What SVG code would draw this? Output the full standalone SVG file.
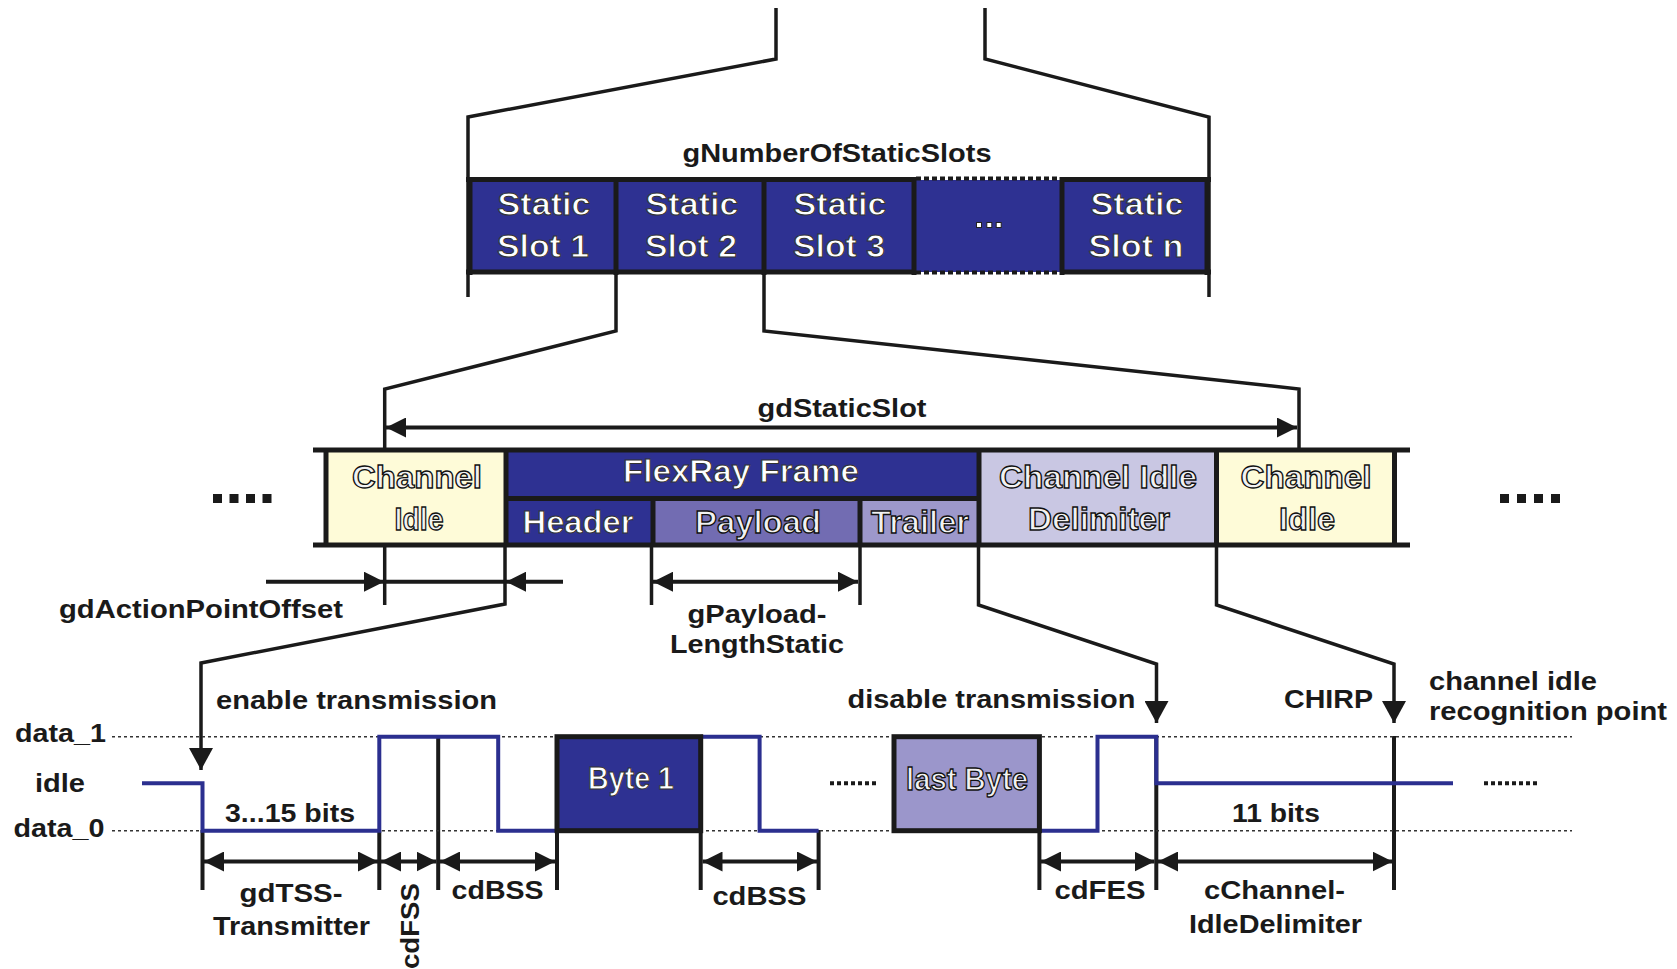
<svg xmlns="http://www.w3.org/2000/svg" width="1677" height="969" viewBox="0 0 1677 969">
  <style>
    .ln { fill: none; stroke: #1a1a1a; stroke-width: 3.5; stroke-linejoin: miter; }
    .thick { fill: none; stroke: #1a1a1a; stroke-width: 5; }
    .tick { fill: none; stroke: #1a1a1a; stroke-width: 4; }
    .dim { fill: none; stroke: #1a1a1a; stroke-width: 4; marker-start: url(#ah); marker-end: url(#ah); }
    .sig { fill: none; stroke: #2b2f8f; stroke-width: 4; stroke-linejoin: miter; }
    .lvl { fill: none; stroke: #333; stroke-width: 1.6; stroke-dasharray: 3 3; }
    .lbl { font-family: "Liberation Sans", Arial, sans-serif; font-weight: bold; font-size: 26px; fill: #1a1a1a; }
    .box { font-family: "Liberation Sans", Arial, sans-serif; font-weight: bold; font-size: 31px; fill: #ffffff; stroke: #333; stroke-width: 1; text-anchor: middle; }
    .boxl { font-family: "Liberation Sans", Arial, sans-serif; font-weight: bold; font-size: 31px; fill: #f2f2f2; stroke: #111; stroke-width: 1.3; text-anchor: middle; }
    .mid { text-anchor: middle; }
    .blue { fill: #2e3192; }
    .yel { fill: #fefbd8; }
  </style>
  <defs>
    <marker id="ah" viewBox="0 0 20 20" refX="20" refY="10" markerWidth="20" markerHeight="20" markerUnits="userSpaceOnUse" orient="auto-start-reverse">
      <path d="M0,0 L20,10 L0,20 z" fill="#1a1a1a"/>
    </marker>
    <marker id="ahv" viewBox="0 0 22 24" refX="22" refY="12" markerWidth="22" markerHeight="24" markerUnits="userSpaceOnUse" orient="auto">
      <path d="M0,0 L22,12 L0,24 z" fill="#1a1a1a"/>
    </marker>
  </defs>

  <!-- cycle-level static segment -->
  <g id="static-segment">
    <rect x="468" y="180" width="741" height="92" class="blue"/>
    <path class="ln" d="M776,8 V59 L468,117 V297"/>
    <path class="ln" d="M985,8 V59 L1209,117 V297"/>
    <path class="thick" d="M466,179.5 H914 M1060,179.5 H1211 M466,272 H914 M1060,272 H1211"/>
    <path fill="none" stroke="#1a1a1a" stroke-width="4" stroke-dasharray="5 3" d="M916,178.5 H1060 M916,272.5 H1060"/>
    <path class="thick" d="M470,177 V275 M616,177 V275 M764,177 V275 M914,177 V275 M1062,177 V275 M1207,177 V275"/>
    <text class="lbl mid" x="837" y="162" textLength="309" lengthAdjust="spacingAndGlyphs">gNumberOfStaticSlots</text>
  </g>

  <g id="slot-1">
    <text class="box" x="544" y="215" textLength="93" lengthAdjust="spacingAndGlyphs">Static</text>
    <text class="box" x="543" y="257" textLength="92" lengthAdjust="spacingAndGlyphs">Slot 1</text>
  </g>
  <g id="slot-2">
    <text class="box" x="692" y="215" textLength="93" lengthAdjust="spacingAndGlyphs">Static</text>
    <text class="box" x="691" y="257" textLength="92" lengthAdjust="spacingAndGlyphs">Slot 2</text>
  </g>
  <g id="slot-3">
    <text class="box" x="840" y="215" textLength="93" lengthAdjust="spacingAndGlyphs">Static</text>
    <text class="box" x="839" y="257" textLength="92" lengthAdjust="spacingAndGlyphs">Slot 3</text>
  </g>
  <g id="slot-ellipsis">
    <rect x="976.5" y="222.5" width="5" height="5" fill="#fff" stroke="#222" stroke-width="1"/>
    <rect x="986.8" y="222.5" width="5" height="5" fill="#fff" stroke="#222" stroke-width="1"/>
    <rect x="996.2" y="222.5" width="5" height="5" fill="#fff" stroke="#222" stroke-width="1"/>
  </g>
  <g id="slot-n">
    <text class="box" x="1137" y="215" textLength="93" lengthAdjust="spacingAndGlyphs">Static</text>
    <text class="box" x="1136" y="257" textLength="95" lengthAdjust="spacingAndGlyphs">Slot n</text>
  </g>

  <!-- zoom from slot 2 into the slot layout -->
  <g id="connectors">
    <path class="ln" d="M616,272 V331 L384.7,389 V448"/>
    <path class="ln" d="M764,272 V331 L1299,389 V448"/>
    <line class="dim" x1="386" y1="427.5" x2="1297" y2="427.5" stroke-width="3.5"/>

    <!-- action point offset -->
    <path class="ln" d="M384.7,547 V605"/>
    <line class="tick" x1="266" y1="581.7" x2="384" y2="581.7" marker-end="url(#ah)"/>
    <line class="tick" x1="384" y1="581.7" x2="505" y2="581.7"/>
    <line class="tick" x1="563" y1="581.7" x2="506" y2="581.7" marker-end="url(#ah)"/>

    <!-- payload length -->
    <path class="ln" d="M651.5,547 V605 M860,547 V605"/>
    <line class="dim" x1="653" y1="581.7" x2="858" y2="581.7"/>

    <!-- drop lines to the bit level -->
    <path class="ln" d="M505,547 V604 L201,663 V770" marker-end="url(#ahv)"/>
    <path class="ln" d="M978.5,547 V605 L1156.5,664 V723" marker-end="url(#ahv)"/>
    <path class="ln" d="M1216.5,547 V605 L1394,664 V723" marker-end="url(#ahv)"/>

    <!-- bit-level boundaries -->
    <path class="tick" d="M202.5,830 V890 M379.3,830 V890 M438.2,736 V890 M557,830 V890 M700.7,830 V890 M818.6,830 V890 M1039.4,830 V890 M1156.3,736 V890 M1394,736 V890"/>
    <line class="dim" x1="204" y1="861.5" x2="378" y2="861.5"/>
    <line class="dim" x1="381" y1="861.5" x2="436.5" y2="861.5"/>
    <line class="dim" x1="440" y1="861.5" x2="555" y2="861.5"/>
    <line class="dim" x1="702.5" y1="861.5" x2="817" y2="861.5"/>
    <line class="dim" x1="1041" y1="861.5" x2="1154.5" y2="861.5"/>
    <line class="dim" x1="1158" y1="861.5" x2="1392.5" y2="861.5"/>
  </g>

  <!-- static slot layout -->
  <g id="slot-band">
    <rect x="328" y="452" width="177" height="91" class="yel"/>
    <rect x="506" y="452" width="472" height="46" class="blue"/>
    <rect x="506" y="499" width="148" height="44" class="blue"/>
    <rect x="654" y="499" width="206" height="44" fill="#726cb2"/>
    <rect x="860" y="499" width="118" height="44" fill="#9d98cb"/>
    <rect x="979" y="452" width="238" height="91" fill="#c9c7e3"/>
    <rect x="1217" y="452" width="177" height="91" class="yel"/>
    <path class="thick" d="M313,450 H1410 M313,545 H1410 M326,447.5 V547.5 M1394.5,447.5 V547.5 M506,450 V545 M506,498.5 H979 M653,498.5 V545 M860,498.5 V545 M979,450 V545 M1216.5,450 V545"/>
    <g fill="#1a1a1a">
      <rect x="213" y="494" width="9" height="9"/>
      <rect x="229.5" y="494" width="9" height="9"/>
      <rect x="246" y="494" width="9" height="9"/>
      <rect x="262.5" y="494" width="9" height="9"/>
      <rect x="1500" y="494" width="9" height="9"/>
      <rect x="1517" y="494" width="9" height="9"/>
      <rect x="1534" y="494" width="9" height="9"/>
      <rect x="1551" y="494" width="9" height="9"/>
    </g>
  </g>
  <g id="channel-idle-1">
    <text class="boxl" x="417" y="488" textLength="130" lengthAdjust="spacingAndGlyphs">Channel</text>
    <text class="boxl" x="419" y="530" textLength="49" lengthAdjust="spacingAndGlyphs">Idle</text>
  </g>
  <g id="flexray-frame">
    <text class="box" x="741" y="482" font-size="29" textLength="236" lengthAdjust="spacingAndGlyphs">FlexRay Frame</text>
  </g>
  <g id="header">
    <text class="box" x="578" y="532.5" font-size="29" textLength="111" lengthAdjust="spacingAndGlyphs">Header</text>
  </g>
  <g id="payload">
    <text class="boxl" x="758" y="532.5" font-size="29" textLength="126" lengthAdjust="spacingAndGlyphs">Payload</text>
  </g>
  <g id="trailer">
    <text class="boxl" x="920" y="532.5" font-size="29" textLength="98" lengthAdjust="spacingAndGlyphs">Trailer</text>
  </g>
  <g id="channel-idle-delimiter">
    <text class="boxl" x="1098" y="488" textLength="198" lengthAdjust="spacingAndGlyphs">Channel Idle</text>
    <text class="boxl" x="1099" y="530" textLength="142" lengthAdjust="spacingAndGlyphs">Delimiter</text>
  </g>
  <g id="channel-idle-2">
    <text class="boxl" x="1306" y="488" textLength="131" lengthAdjust="spacingAndGlyphs">Channel</text>
    <text class="boxl" x="1307" y="530" textLength="56" lengthAdjust="spacingAndGlyphs">Idle</text>
  </g>

  <g id="slot-labels">
    <text class="lbl mid" x="842" y="416.5" textLength="169" lengthAdjust="spacingAndGlyphs">gdStaticSlot</text>
    <text class="lbl" x="59" y="618" textLength="284" lengthAdjust="spacingAndGlyphs">gdActionPointOffset</text>
    <text class="lbl mid" x="757" y="622.5" textLength="139" lengthAdjust="spacingAndGlyphs">gPayload-</text>
    <text class="lbl mid" x="757" y="652.5" textLength="174" lengthAdjust="spacingAndGlyphs">LengthStatic</text>
  </g>

  <!-- bit-level signal -->
  <g id="levels">
    <path class="lvl" d="M112,736.7 H1572 M112,830.7 H1572"/>
    <text class="lbl" x="15" y="741.5" textLength="91" lengthAdjust="spacingAndGlyphs">data_1</text>
    <text class="lbl" x="35" y="792" textLength="50" lengthAdjust="spacingAndGlyphs">idle</text>
    <text class="lbl" x="13.5" y="837" textLength="91" lengthAdjust="spacingAndGlyphs">data_0</text>
  </g>
  <g id="signal">
    <path class="sig" d="M142,783.3 H202.5 V830.7 H379.3 V736.7 H498.2 V830.7 H557"/>
    <path class="sig" d="M700.7,736.7 H759.6 V830.7 H818.6"/>
    <path class="sig" d="M1039.4,830.7 H1097.5 V736.7 H1156.3 V783.3 H1453"/>
    <path fill="none" stroke="#1a1a1a" stroke-width="4" stroke-dasharray="4 3" d="M830,783.3 H877 M1484,783.3 H1538"/>
  </g>
  <g id="byte-1">
    <rect x="557" y="736.7" width="143.7" height="94" class="blue" stroke="#1a1a1a" stroke-width="5"/>
    <text class="box" x="631" y="789" font-size="27" textLength="86" lengthAdjust="spacingAndGlyphs">Byte 1</text>
  </g>
  <g id="last-byte">
    <rect x="894" y="736.7" width="145.4" height="94" fill="#9b96cb" stroke="#1a1a1a" stroke-width="5"/>
    <text class="boxl" x="967" y="790" font-size="27" textLength="122" lengthAdjust="spacingAndGlyphs">last Byte</text>
  </g>

  <g id="bit-labels">
    <text class="lbl mid" x="356.5" y="709" textLength="281" lengthAdjust="spacingAndGlyphs">enable transmission</text>
    <text class="lbl mid" x="991.5" y="708" textLength="288" lengthAdjust="spacingAndGlyphs">disable transmission</text>
    <text class="lbl mid" x="1328.5" y="708" textLength="89" lengthAdjust="spacingAndGlyphs">CHIRP</text>
    <text class="lbl" x="1429" y="690" textLength="168" lengthAdjust="spacingAndGlyphs">channel idle</text>
    <text class="lbl" x="1429" y="720" textLength="238" lengthAdjust="spacingAndGlyphs">recognition point</text>
    <text class="lbl mid" x="290" y="821.5" textLength="130" lengthAdjust="spacingAndGlyphs">3...15 bits</text>
    <text class="lbl mid" x="1276" y="821.5" textLength="88" lengthAdjust="spacingAndGlyphs">11 bits</text>
    <text class="lbl mid" x="291" y="901.5" textLength="103" lengthAdjust="spacingAndGlyphs">gdTSS-</text>
    <text class="lbl mid" x="291.5" y="935" textLength="157" lengthAdjust="spacingAndGlyphs">Transmitter</text>
    <text class="lbl" transform="translate(419,883) rotate(-90)" x="0" y="0" text-anchor="end" textLength="86" lengthAdjust="spacingAndGlyphs">cdFSS</text>
    <text class="lbl mid" x="497.6" y="899" textLength="92" lengthAdjust="spacingAndGlyphs">cdBSS</text>
    <text class="lbl mid" x="759.4" y="905" textLength="94" lengthAdjust="spacingAndGlyphs">cdBSS</text>
    <text class="lbl mid" x="1100" y="899" textLength="91" lengthAdjust="spacingAndGlyphs">cdFES</text>
    <text class="lbl mid" x="1274.5" y="899" textLength="141" lengthAdjust="spacingAndGlyphs">cChannel-</text>
    <text class="lbl mid" x="1275.5" y="933" textLength="173" lengthAdjust="spacingAndGlyphs">IdleDelimiter</text>
  </g>
</svg>
